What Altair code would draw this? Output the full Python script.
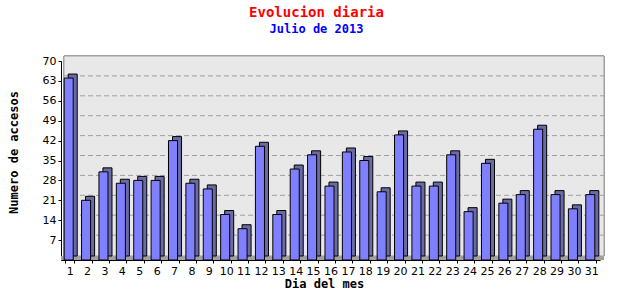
import altair as alt
import pandas as pd

days = [str(d) for d in range(1, 32)]
visits = [64, 21, 31, 27, 28, 28, 42, 27, 25, 16, 11, 40, 16, 32, 37, 26,
          38, 35, 24, 44, 26, 26, 37, 17, 34, 20, 23, 46, 23, 18, 23]
y_ticks = [7, 14, 21, 28, 35, 42, 49, 56, 63, 70]
grid_values = [7, 14, 21, 28, 35, 42, 49, 56, 63]

W, H = 539, 199
D = 4  # 3D depth in px

df = pd.DataFrame({"dia": days, "accesos": visits})
gdf = pd.DataFrame({"accesos": grid_values})

xscale = alt.Scale(paddingInner=0.48, paddingOuter=0.24)
yscale = alt.Scale(domain=[0, 70], nice=False)

xaxis = alt.Axis(title="Dia del mes", labelAngle=0, tickBand="extent",
                 tickSize=3, labelPadding=2, labelFontSize=11,
                 labelFont="DejaVu Sans", labelColor="#000",
                 domainColor="#000", tickColor="#000",
                 titleFont="DejaVu Sans Mono", titleFontSize=12,
                 titleFontWeight="bold", titleColor="#000",
                 titleX=263, titleY=23, titleBaseline="middle")
yaxis = alt.Axis(title="Numero de accesos", values=y_ticks, grid=False,
                 tickSize=3, labelPadding=2, labelFontSize=11,
                 labelFont="DejaVu Sans", labelColor="#000",
                 domainColor="#000", tickColor="#000",
                 titleFont="DejaVu Sans Mono", titleFontSize=12,
                 titleFontWeight="bold", titleColor="#000",
                 titleX=-48, titleY=91, titleBaseline="middle")

xenc = alt.X("dia:N", sort=days, scale=xscale, axis=xaxis)
yenc = alt.Y("accesos:Q", scale=yscale, axis=yaxis)

wall = alt.Chart(df).mark_rect(fill="#e8e8e8", stroke="#a0a0a0", strokeWidth=1).encode(
    x=alt.value(D - 1), x2=alt.value(W + D), y=alt.value(-5), y2=alt.value(H - D))
floor = alt.Chart(df).mark_rect(fill="#a0a0a0").encode(
    x=alt.value(0), x2=alt.value(W + D), y=alt.value(H - D), y2=alt.value(H))

grid = alt.Chart(gdf).mark_rule(color="#a0a0a0", strokeDash=[5, 3], yOffset=-5).encode(
    y=yenc, x=alt.value(D - 1), x2=alt.value(W + D))

side = alt.Chart(df).mark_bar(fill="#6b6ba4", stroke="#000", strokeWidth=1,
                              xOffset=D - 1, yOffset=-D).encode(x=xenc, y=yenc)
front = alt.Chart(df).mark_bar(fill="#8080ff", stroke="#000", strokeWidth=1,
                               xOffset=-1).encode(x=xenc, y=yenc)

chart = alt.layer(wall, floor, grid, side, front).properties(
    width=W, height=H,
    autosize=alt.AutoSizeParams(type="none"),
    padding={"left": 61, "top": 61, "right": 40, "bottom": 40},
    title=alt.TitleParams("Evolucion diaria", subtitle="Julio de 2013",
                          color="#ff0000", subtitleColor="#0000ff",
                          font="DejaVu Sans Mono", fontSize=14, fontWeight="bold",
                          subtitleFont="DejaVu Sans Mono", subtitleFontSize=12,
                          subtitleFontWeight="bold", subtitlePadding=4,
                          anchor="middle", dx=-14, offset=20),
).configure_view(stroke=None).configure(background="white")

chart.save("out.html", embed_options={"renderer": "svg", "actions": False})
